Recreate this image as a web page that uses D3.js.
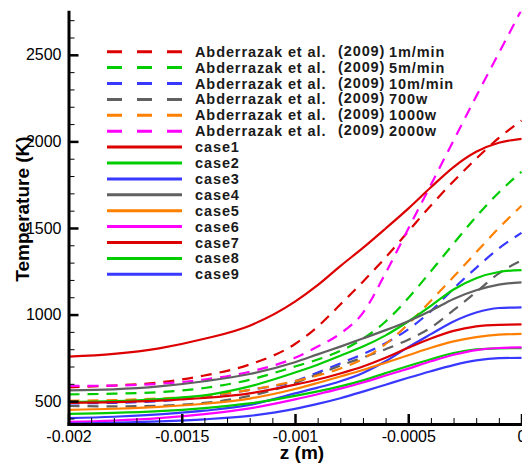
<!DOCTYPE html>
<html>
<head>
<meta charset="utf-8">
<script src="https://cdn.jsdelivr.net/npm/d3@7"></script>
<style>
  html, body { margin: 0; padding: 0; background: #fff; }
  svg { display: block; font-family: "Liberation Sans", Arial, sans-serif; }
</style>
</head>
<body>
<script>
// ---------------- data ----------------
const zValues = [-0.002, -0.0018, -0.0016, -0.0014, -0.0012, -0.001, -0.0009, -0.0008, -0.0007, -0.0006, -0.0005, -0.0004, -0.0003, -0.0002, -0.0001, 0];

const ref1mmin   = [580, 590, 608, 648, 712, 830, 930, 1058, 1190, 1330, 1480, 1630, 1770, 1900, 2020, 2120];
const ref5mmin   = [539, 543, 552, 576, 623, 700, 740, 790, 860, 960, 1095, 1250, 1410, 1565, 1705, 1825];
const ref10mmin  = [487, 490, 500, 525, 565, 615, 665, 718, 772, 835, 915, 1020, 1150, 1270, 1382, 1472];
const ref700w    = [472, 470, 474, 490, 530, 605, 655, 705, 752, 800, 855, 925, 1025, 1130, 1238, 1312];
const ref1000w   = [502, 506, 515, 530, 565, 615, 648, 688, 745, 830, 945, 1080, 1218, 1360, 1500, 1628];
const ref2000w   = [588, 590, 600, 625, 670, 750, 815, 890, 1010, 1240, 1495, 1750, 2005, 2260, 2510, 2760];

const case1 = [757, 773, 805, 860, 936, 1075, 1170, 1280, 1385, 1497, 1612, 1735, 1852, 1940, 1992, 2015];
const case2 = [495, 500, 512, 533, 585, 665, 710, 762, 815, 880, 960, 1050, 1145, 1210, 1246, 1257];
const case3 = [402, 410, 424, 445, 478, 545, 578, 615, 663, 730, 812, 887, 960, 1012, 1038, 1042];
const case4 = [562, 568, 585, 615, 657, 725, 770, 815, 862, 910, 962, 1022, 1090, 1140, 1173, 1186];
const case5 = [450, 456, 467, 485, 515, 570, 605, 642, 680, 722, 765, 808, 845, 870, 884, 888];
const case6 = [380, 388, 402, 425, 458, 510, 540, 572, 608, 648, 688, 730, 768, 795, 807, 810];
const case7 = [490, 494, 503, 518, 545, 595, 625, 660, 700, 750, 808, 862, 906, 932, 941, 943];
const case8 = [427, 432, 442, 460, 487, 530, 556, 585, 620, 662, 703, 742, 778, 799, 805, 806];
const case9 = [370, 375, 383, 395, 415, 455, 484, 517, 555, 595, 635, 673, 708, 735, 748, 750];

const seriesNames = [
  "Abderrazak et al. (2009) 1m/min", "Abderrazak et al. (2009) 5m/min", "Abderrazak et al. (2009) 10m/min",
  "Abderrazak et al. (2009) 700w", "Abderrazak et al. (2009) 1000w", "Abderrazak et al. (2009) 2000w",
  "case1", "case2", "case3", "case4", "case5", "case6", "case7", "case8", "case9"
];
const legendSuffix = ["1m/min", "5m/min", "10m/min", "700w", "1000w", "2000w"];
const seriesValues = [ref1mmin, ref5mmin, ref10mmin, ref700w, ref1000w, ref2000w,
                      case1, case2, case3, case4, case5, case6, case7, case8, case9];
const seriesColors = ["#dd0000", "#00cc00", "#3838ff", "#606060", "#ff8000", "#ff00ff",
                      "#dd0000", "#00cc00", "#3838ff", "#606060", "#ff8000", "#ff00ff",
                      "#dd0000", "#00cc00", "#3838ff"];
const seriesDashed = [true, true, true, true, true, true, false, false, false, false, false, false, false, false, false];

const xMajorTicks = [-0.002, -0.0015, -0.001, -0.0005, 0];
const xTickLabels = ["-0.002", "-0.0015", "-0.001", "-0.0005", "0"];
const yMajorTicks = [500, 1000, 1500, 2000, 2500];
const yTickLabels = ["500", "1000", "1500", "2000", "2500"];

// ---------------- chart ----------------
const W = 522, H = 466;
const svg = d3.select("body").append("svg").attr("width", W).attr("height", H);

const x = d3.scaleLinear().domain([-0.002, 0]).range([68.5, 521.5]);
const y = d3.scaleLinear().domain([368, 2749]).range([424, 11.7]);

svg.append("defs").append("clipPath").attr("id", "plotclip")
  .append("rect").attr("x", 68.5).attr("y", 11.7).attr("width", 460).attr("height", 424 - 11.7);

const line = d3.line().x(d => x(d[0])).y(d => y(d[1])).curve(d3.curveMonotoneX);

const plot = svg.append("g").attr("clip-path", "url(#plotclip)");
const order = [0,1,2,3,4,5,6,7,8,9,10,13,11,12,14];
order.forEach(i => {
  const pts = zValues.map((z, k) => [z, seriesValues[i][k]]);
  plot.append("path")
    .attr("d", line(pts))
    .attr("fill", "none")
    .attr("stroke", seriesColors[i])
    .attr("stroke-width", 2.2)
    .attr("stroke-dasharray", seriesDashed[i] ? "11,8" : null);
});

// minor ticks
const xMinor = d3.range(-0.002, 0.00001, 0.0001).map(v => +v.toFixed(5));
const yMinor = d3.range(400, 2701, 100);

const xMinorAxis = d3.axisBottom(x).tickValues(xMinor).tickSize(-6).tickSizeOuter(0).tickFormat("");
const yMinorAxis = d3.axisLeft(y).tickValues(yMinor).tickSize(-6).tickSizeOuter(0).tickFormat("");
const gxm = svg.append("g").attr("transform", "translate(0,424)").call(xMinorAxis);
const gym = svg.append("g").attr("transform", "translate(68.5,0)").call(yMinorAxis);
[gxm, gym].forEach(g => { g.select(".domain").remove(); g.selectAll(".tick line").attr("stroke", "#000").attr("stroke-width", 1); });

const xAxis = d3.axisBottom(x).tickValues(xMajorTicks).tickSize(-10).tickSizeOuter(0).tickPadding(7)
  .tickFormat((d, i) => xTickLabels[i]);
const yAxis = d3.axisLeft(y).tickValues(yMajorTicks).tickSize(-10).tickSizeOuter(0).tickPadding(7)
  .tickFormat((d, i) => yTickLabels[i]);

const gx = svg.append("g").attr("transform", "translate(0,424)").call(xAxis);
const gy = svg.append("g").attr("transform", "translate(68.5,0)").call(yAxis);
[gx, gy].forEach(g => {
  g.select(".domain").attr("stroke", "#000").attr("stroke-width", 3).attr("stroke-linecap", "square");
  g.selectAll(".tick line").attr("stroke", "#000").attr("stroke-width", 2.5);
  g.selectAll(".tick text").attr("fill", "#000").attr("font-size", 16).attr("font-family", "'Liberation Sans', Arial, sans-serif");
});

// axis titles
svg.append("text")
  .attr("x", 302).attr("y", 459)
  .attr("text-anchor", "middle")
  .attr("font-size", 19).attr("font-weight", "bold").attr("fill", "#000")
  .text("z (m)");
svg.append("text")
  .attr("transform", "translate(29,209) rotate(-90)")
  .attr("text-anchor", "middle")
  .attr("font-size", 19).attr("font-weight", "bold").attr("fill", "#000")
  .text("Temperature (K)");

// legend
const legend = svg.append("g");
const ly0 = 51.7, ldy = 15.9;
seriesNames.forEach((name, i) => {
  const cy = ly0 + i * ldy;
  legend.append("line")
    .attr("x1", 107).attr("x2", 182).attr("y1", cy).attr("y2", cy)
    .attr("stroke", seriesColors[i]).attr("stroke-width", 3)
    .attr("stroke-dasharray", seriesDashed[i] ? "15,15" : null);
  const common = t => t.attr("font-size", 14.5).attr("font-weight", "bold").attr("fill", "#1a1a1a")
    .attr("letter-spacing", 0.9);
  if (i < 6) {
    common(legend.append("text").attr("x", 195).attr("y", cy + 5).text("Abderrazak et al."));
    common(legend.append("text").attr("x", 338).attr("y", cy + 4).attr("font-size", 14).attr("letter-spacing", 0.4).text("(2009)"));
    common(legend.append("text").attr("x", 389).attr("y", cy + 5).text(legendSuffix[i]));
  } else {
    common(legend.append("text").attr("x", 195).attr("y", cy + 5).text(name));
  }
});
</script>
</body>
</html>
